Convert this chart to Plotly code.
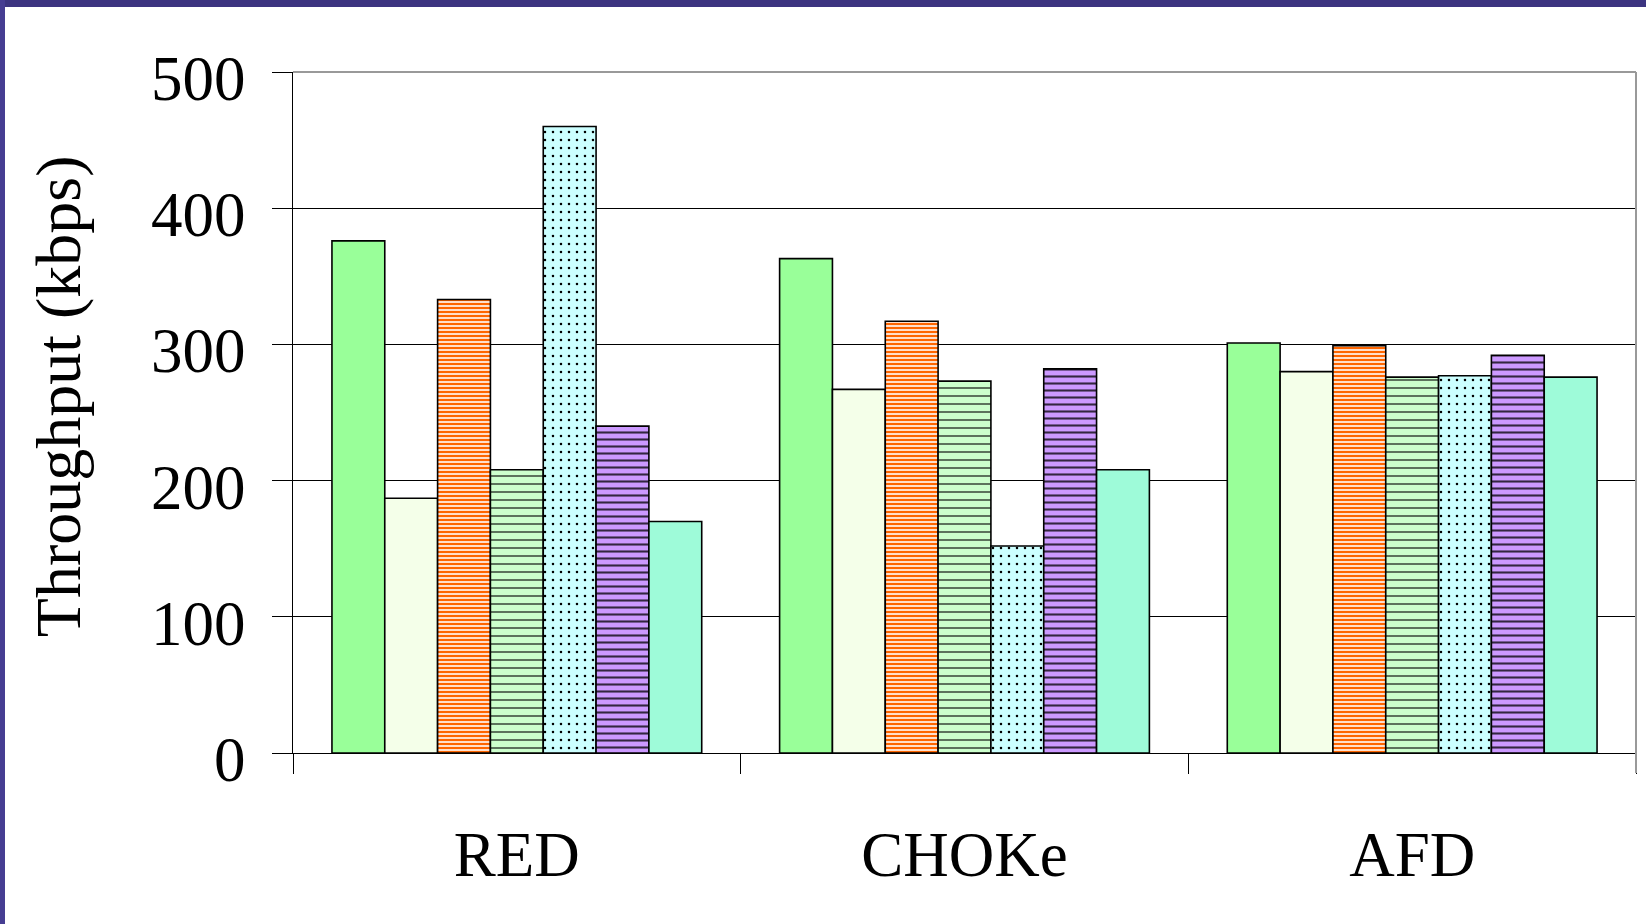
import plotly.graph_objects as go

# Queue-management schemes on the category axis
schemes = ["RED", "CHOKe", "AFD"]

# Throughput (kbps) of each flow under each scheme
flow1 = [376, 363, 301]
flow2 = [187, 267, 280]
flow3 = [333, 317, 299]
flow4 = [208, 273, 276]
flow5 = [460, 152, 277]
flow6 = [240, 282, 292]
flow7 = [170, 208, 276]

y_ticks = [0, 100, 200, 300, 400, 500]

series = [flow1, flow2, flow3, flow4, flow5, flow6, flow7]


def hatch(bg, shape, fg, size, solidity, opacity=1.0):
    return dict(color=bg, pattern=dict(shape=shape, bgcolor=bg, fgcolor=fg, fgopacity=opacity,
                                       size=size, solidity=solidity, fillmode="replace"))


# Fill colour and hatch style for each flow
styles = [
    dict(color="#99FF99"),
    dict(color="#F4FFE9"),
    hatch("#FF6600", "-", "#FFFFFF", 4, 0.4),
    hatch("#CCFFCC", "-", "#000000", 8, 0.25, 0.55),
    hatch("#CCFFFF", ".", "#000000", 8, 0.08),
    hatch("#CC99FF", "-", "#000000", 7, 0.3, 0.75),
    dict(color="#9EFBD9"),
]

SERIF = "Liberation Serif, Times New Roman, serif"

fig = go.Figure()
for i, (vals, st) in enumerate(zip(series, styles)):
    fig.add_trace(go.Bar(
        x=schemes, y=vals, name=f"Flow {i + 1}",
        marker=dict(line=dict(color="#000000", width=1.6), **st),
    ))

fig.update_layout(
    width=1646, height=924,
    margin=dict(l=293, r=10, t=72, b=171),
    paper_bgcolor="#FFFFFF", plot_bgcolor="#FFFFFF",
    barmode="group", bargap=0.174, bargroupgap=0,
    showlegend=False,
    font=dict(family=SERIF, color="#000000", size=63),
    xaxis=dict(
        type="category", showgrid=False, showline=True, linecolor="#000000", linewidth=1,
        ticks="outside", tickson="boundaries", ticklen=20, tickcolor="#000000", tickwidth=1,
        tickfont=dict(family=SERIF, size=63), ticklabelstandoff=46,
    ),
    yaxis=dict(
        range=[0, 500], tickvals=y_ticks, showgrid=True, gridcolor="#000000", gridwidth=1,
        showline=True, linecolor="#000000", linewidth=1, zeroline=False,
        ticks="outside", ticklen=20, tickcolor="#000000", tickwidth=1,
        tickfont=dict(family=SERIF, size=63), ticklabelstandoff=14, ticklabelshift=6,
    ),
    annotations=[dict(
        text="Throughput (kbps)", textangle=-90, showarrow=False,
        xref="paper", yref="paper", x=0, y=0.524, xanchor="center", yanchor="middle",
        xshift=-235, font=dict(family=SERIF, size=64),
    )],
    shapes=[
        # slide frame: top and left bands
        dict(type="rect", xref="paper", yref="paper", xsizemode="pixel", ysizemode="pixel",
             xanchor=0, yanchor=1, x0=-300, x1=1400, y0=72, y1=65,
             fillcolor="#3C3480", line=dict(width=0), layer="above"),
        dict(type="rect", xref="paper", yref="paper", xsizemode="pixel", ysizemode="pixel",
             xanchor=0, yanchor=1, x0=-293, x1=-288, y0=72, y1=-900,
             fillcolor="#463D92", line=dict(width=0), layer="above"),
        # plot-area border on top and right
        dict(type="line", xref="paper", yref="paper", x0=0, x1=1, y0=1, y1=1,
             line=dict(color="#999999", width=2), layer="above"),
        dict(type="line", xref="paper", yref="paper", ysizemode="pixel", yanchor=0,
             x0=1, x1=1, y0=-20, y1=681,
             line=dict(color="#999999", width=2), layer="above"),
    ],
)

fig.write_html("out.html")
